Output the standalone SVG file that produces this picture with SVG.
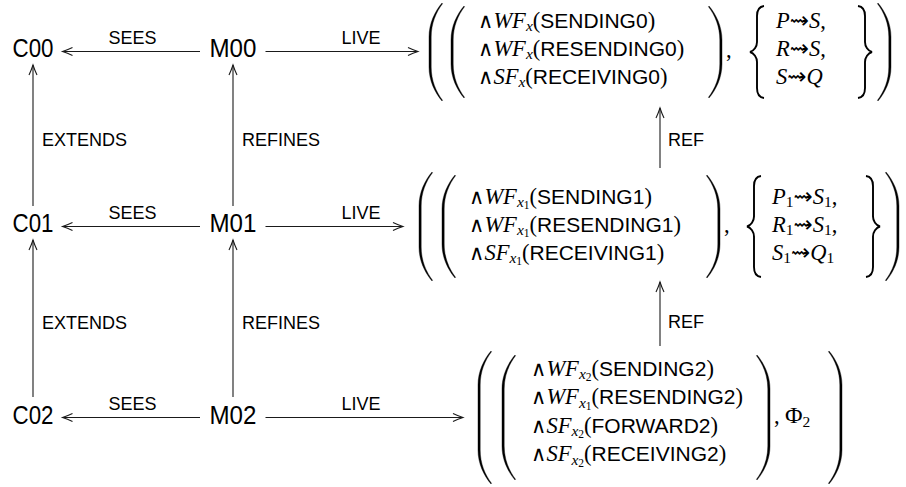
<svg xmlns="http://www.w3.org/2000/svg" width="906" height="487" viewBox="0 0 906 487">
<defs>
<style>
.node{font-family:"Liberation Sans",Arial,sans-serif;font-size:25px;fill:#000;text-anchor:middle}
.lbl{font-family:"Liberation Sans",Arial,sans-serif;font-size:18px;fill:#000}
.mid{text-anchor:middle}
.ln{stroke:#1a1a1a;stroke-width:1.1;fill:none}
.dl{fill:#000;stroke:#000;stroke-width:0.4}
.br{fill:none;stroke:#000;stroke-width:1.9}
.f{font-family:"Liberation Serif","DejaVu Serif",serif;font-size:22.5px;fill:#000}
.i{font-style:italic}
.sf{font-family:"Liberation Sans",Arial,sans-serif;font-size:21px}
.op{font-family:"DejaVu Serif",serif;font-size:21px}
.sb{font-size:15.5px;font-style:italic}
.ss{font-size:11.5px}
.s1{font-size:15.5px}
.lt{font-family:"DejaVu Sans",sans-serif;font-size:23px}
.big{font-size:24px}
</style>
<marker id="ah" markerUnits="userSpaceOnUse" viewBox="-12 -6 13 12" markerWidth="13" markerHeight="12" refX="0" refY="0" orient="auto" overflow="visible">
<path d="M -10,-4 Q -5,-1.6 0,0 Q -5,1.6 -10,4" fill="none" stroke="#1a1a1a" stroke-width="1.1"/>
</marker>
</defs>

<g id="connectors">
<g id="e-M00-C00"><path class="ln" d="M 200,51.5 H 62.5" marker-end="url(#ah)"/><text class="lbl mid" x="132.5" y="43.5">SEES</text></g>
<g id="e-M00-F0"><path class="ln" d="M 265.5,51.5 H 418" marker-end="url(#ah)"/><text class="lbl mid" x="361" y="43.5">LIVE</text></g>
<g id="e-M01-C01"><path class="ln" d="M 200,226.5 H 62.5" marker-end="url(#ah)"/><text class="lbl mid" x="132.5" y="218.5">SEES</text></g>
<g id="e-M01-F1"><path class="ln" d="M 265.5,226.5 H 403" marker-end="url(#ah)"/><text class="lbl mid" x="361" y="218.5">LIVE</text></g>
<g id="e-M02-C02"><path class="ln" d="M 200,417.5 H 62.5" marker-end="url(#ah)"/><text class="lbl mid" x="132.5" y="410">SEES</text></g>
<g id="e-M02-F2"><path class="ln" d="M 265.5,417.5 H 463" marker-end="url(#ah)"/><text class="lbl mid" x="361" y="410">LIVE</text></g>
<g id="e-C01-C00"><path class="ln" d="M 33,206 V 65" marker-end="url(#ah)"/><text class="lbl" x="42" y="145.5">EXTENDS</text></g>
<g id="e-C02-C01"><path class="ln" d="M 33,397 V 240" marker-end="url(#ah)"/><text class="lbl" x="42" y="329">EXTENDS</text></g>
<g id="e-M01-M00"><path class="ln" d="M 233,206 V 65" marker-end="url(#ah)"/><text class="lbl" x="242" y="145.5">REFINES</text></g>
<g id="e-M02-M01"><path class="ln" d="M 233,397 V 240" marker-end="url(#ah)"/><text class="lbl" x="242" y="329">REFINES</text></g>
<g id="e-F1-F0"><path class="ln" d="M 660,168 V 108" marker-end="url(#ah)"/><text class="lbl" x="668" y="145.5">REF</text></g>
<g id="e-F2-F1"><path class="ln" d="M 660,346 V 282" marker-end="url(#ah)"/><text class="lbl" x="668" y="327.5">REF</text></g>
</g>

<g id="C00"><text class="node" x="33" y="57.3" textLength="41" lengthAdjust="spacingAndGlyphs">C00</text></g>
<g id="M00"><text class="node" x="233" y="57.3" textLength="47" lengthAdjust="spacingAndGlyphs">M00</text></g>
<g id="C01"><text class="node" x="33" y="232.3" textLength="41" lengthAdjust="spacingAndGlyphs">C01</text></g>
<g id="M01"><text class="node" x="233" y="232.3" textLength="47" lengthAdjust="spacingAndGlyphs">M01</text></g>
<g id="C02"><text class="node" x="33" y="424.3" textLength="41" lengthAdjust="spacingAndGlyphs">C02</text></g>
<g id="M02"><text class="node" x="233" y="424.3" textLength="47" lengthAdjust="spacingAndGlyphs">M02</text></g>

<g id="F0">
<path class="dl" d="M 442,3 c -7.15,8.5 -13,20.4 -13,34 V 67 c 0,13.6 5.850,25.5 13,34 l 0.5,-0.8 c -6.5,-8.5 -11.3,-19.6 -11.3,-33.2 V 37 c 0,-13.6 4.8,-24.7 11.3,-33.2 Z"/>
<path class="dl" d="M 464,6 c -7.15,8.5 -13,20.4 -13,34 V 64 c 0,13.6 5.85,25.5 13,34 l 0.5,-0.8 c -6.5,-8.5 -11.3,-19.6 -11.3,-33.2 V 40 c 0,-13.6 4.8,-24.7 11.3,-33.2 Z"/>
<text class="f" x="478" y="27.5"><tspan class="op">∧</tspan><tspan class="i">WF</tspan><tspan class="sb" dy="3.5">x</tspan><tspan dy="-3.5">(</tspan><tspan class="sf">SENDING0</tspan>)</text>
<text class="f" x="478" y="55.5"><tspan class="op">∧</tspan><tspan class="i">WF</tspan><tspan class="sb" dy="3.5">x</tspan><tspan dy="-3.5">(</tspan><tspan class="sf">RESENDING0</tspan>)</text>
<text class="f" x="478" y="83.5"><tspan class="op">∧</tspan><tspan class="i">SF</tspan><tspan class="sb" dy="3.5">x</tspan><tspan dy="-3.5">(</tspan><tspan class="sf">RECEIVING0</tspan>)</text>
<path class="dl" d="M 709,6 c 7.15,8.5 13,20.4 13,34 V 64 c 0,13.6 -5.85,25.5 -13,34 l -0.5,-0.8 c 6.5,-8.5 11.3,-19.6 11.3,-33.2 V 40 c 0,-13.6 -4.8,-24.7 -11.3,-33.2 Z"/>
<text class="f" x="726" y="57">,</text>
<path class="br" d="M 764,6 c -4,0.5 -7,4 -7,10 V 42 c 0,4.5 -3,9 -7,10 c 4,1 7,5.5 7,10 V 88 c 0,6 3,9.5 7,10"/>
<text class="f" x="776" y="27.5"><tspan class="i">P</tspan><tspan class="lt">⇝</tspan><tspan class="i">S</tspan>,</text>
<text class="f" x="776" y="55.5"><tspan class="i">R</tspan><tspan class="lt">⇝</tspan><tspan class="i">S</tspan>,</text>
<text class="f" x="776" y="83.5"><tspan class="i">S</tspan><tspan class="lt">⇝</tspan><tspan class="i">Q</tspan></text>
<path class="br" d="M 858,6 c 4,0.5 7,4 7,10 V 42 c 0,4.5 3,9 7,10 c -4,1 -7,5.5 -7,10 V 88 c 0,6 -3,9.5 -7,10"/>
<path class="dl" d="M 878,3 c 7.15,8.5 13,20.4 13,34 V 67 c 0,13.6 -5.85,25.5 -13,34 l -0.5,-0.8 c 6.5,-8.5 11.3,-19.6 11.3,-33.2 V 37 c 0,-13.6 -4.8,-24.7 -11.3,-33.2 Z"/>
</g>

<g id="F1">
<path class="dl" d="M 432,172 c -7.15,8.5 -13,20.4 -13,34 V 247 c 0,13.6 5.85,25.5 13,34 l 0.5,-0.8 c -6.5,-8.5 -11.3,-19.6 -11.3,-33.2 V 206 c 0,-13.6 4.8,-24.7 11.3,-33.2 Z"/>
<path class="dl" d="M 455,175 c -7.15,8.5 -13,20.4 -13,34 V 244 c 0,13.6 5.85,25.5 13,34 l 0.5,-0.8 c -6.5,-8.5 -11.3,-19.6 -11.3,-33.2 V 209 c 0,-13.6 4.8,-24.7 11.3,-33.2 Z"/>
<text class="f" x="469" y="203.5"><tspan class="op">∧</tspan><tspan class="i">WF</tspan><tspan class="sb" dy="3.5">x</tspan><tspan class="ss" dy="2">1</tspan><tspan dy="-5.5">(</tspan><tspan class="sf">SENDING1</tspan>)</text>
<text class="f" x="469" y="231.5"><tspan class="op">∧</tspan><tspan class="i">WF</tspan><tspan class="sb" dy="3.5">x</tspan><tspan class="ss" dy="2">1</tspan><tspan dy="-5.5">(</tspan><tspan class="sf">RESENDING1</tspan>)</text>
<text class="f" x="469" y="259.5"><tspan class="op">∧</tspan><tspan class="i">SF</tspan><tspan class="sb" dy="3.5">x</tspan><tspan class="ss" dy="2">1</tspan><tspan dy="-5.5">(</tspan><tspan class="sf">RECEIVING1</tspan>)</text>
<path class="dl" d="M 707,175 c 7.15,8.5 13,20.4 13,34 V 244 c 0,13.6 -5.85,25.5 -13,34 l -0.5,-0.8 c 6.5,-8.5 11.3,-19.6 11.3,-33.2 V 209 c 0,-13.6 -4.8,-24.7 -11.3,-33.2 Z"/>
<text class="f" x="724" y="232">,</text>
<path class="br" d="M 761,176 c -4,0.5 -7,4 -7,10 V 216.5 c 0,4.5 -3,9 -7,10 c 4,1 7,5.5 7,10 V 267 c 0,6 3,9.5 7,10"/>
<text class="f" x="772" y="203.5"><tspan class="i">P</tspan><tspan class="s1" dy="3.5">1</tspan><tspan class="lt" dy="-3.5">⇝</tspan><tspan class="i">S</tspan><tspan class="s1" dy="3.5">1</tspan><tspan dy="-3.5">,</tspan></text>
<text class="f" x="772" y="231.5"><tspan class="i">R</tspan><tspan class="s1" dy="3.5">1</tspan><tspan class="lt" dy="-3.5">⇝</tspan><tspan class="i">S</tspan><tspan class="s1" dy="3.5">1</tspan><tspan dy="-3.5">,</tspan></text>
<text class="f" x="772" y="259.5"><tspan class="i">S</tspan><tspan class="s1" dy="3.5">1</tspan><tspan class="lt" dy="-3.5">⇝</tspan><tspan class="i">Q</tspan><tspan class="s1" dy="3.5">1</tspan></text>
<path class="br" d="M 866,176 c 4,0.5 7,4 7,10 V 216.5 c 0,4.5 3,9 7,10 c -4,1 -7,5.5 -7,10 V 267 c 0,6 -3,9.5 -7,10"/>
<path class="dl" d="M 886,172 c 7.15,8.5 13,20.4 13,34 V 247 c 0,13.6 -5.85,25.5 -13,34 l -0.5,-0.8 c 6.5,-8.5 11.3,-19.6 11.3,-33.2 V 206 c 0,-13.6 -4.8,-24.7 -11.3,-33.2 Z"/>
</g>

<g id="F2">
<path class="dl" d="M 491,351 c -7.15,8.5 -13,20.4 -13,34 V 450 c 0,13.6 5.85,25.5 13,34 l 0.5,-0.8 c -6.5,-8.5 -11.3,-19.6 -11.3,-33.2 V 385 c 0,-13.6 4.8,-24.7 11.3,-33.2 Z"/>
<path class="dl" d="M 515,355 c -7.15,8.5 -13,20.4 -13,34 V 446 c 0,13.6 5.85,25.5 13,34 l 0.5,-0.8 c -6.5,-8.5 -11.3,-19.6 -11.3,-33.2 V 389 c 0,-13.6 4.8,-24.7 11.3,-33.2 Z"/>
<text class="f" x="531" y="375.5"><tspan class="op">∧</tspan><tspan class="i">WF</tspan><tspan class="sb" dy="3.5">x</tspan><tspan class="ss" dy="2">2</tspan><tspan dy="-5.5">(</tspan><tspan class="sf">SENDING2</tspan>)</text>
<text class="f" x="531" y="404"><tspan class="op">∧</tspan><tspan class="i">WF</tspan><tspan class="sb" dy="3.5">x</tspan><tspan class="ss" dy="2">1</tspan><tspan dy="-5.5">(</tspan><tspan class="sf">RESENDING2</tspan>)</text>
<text class="f" x="531" y="432.5"><tspan class="op">∧</tspan><tspan class="i">SF</tspan><tspan class="sb" dy="3.5">x</tspan><tspan class="ss" dy="2">2</tspan><tspan dy="-5.5">(</tspan><tspan class="sf">FORWARD2</tspan>)</text>
<text class="f" x="531" y="461"><tspan class="op">∧</tspan><tspan class="i">SF</tspan><tspan class="sb" dy="3.5">x</tspan><tspan class="ss" dy="2">2</tspan><tspan dy="-5.5">(</tspan><tspan class="sf">RECEIVING2</tspan>)</text>
<path class="dl" d="M 757,355 c 7.15,8.5 13,20.4 13,34 V 446 c 0,13.6 -5.85,25.5 -13,34 l -0.5,-0.8 c 6.5,-8.5 11.3,-19.6 11.3,-33.2 V 389 c 0,-13.6 -4.8,-24.7 -11.3,-33.2 Z"/>
<text class="f" x="774" y="423">,</text>
<text class="f" x="785" y="423"><tspan class="big">Φ</tspan><tspan class="s1" dy="3.5">2</tspan></text>
<path class="dl" d="M 829,351 c 7.15,8.5 13,20.4 13,34 V 450 c 0,13.6 -5.85,25.5 -13,34 l -0.5,-0.8 c 6.5,-8.5 11.3,-19.6 11.3,-33.2 V 385 c 0,-13.6 -4.8,-24.7 -11.3,-33.2 Z"/>
</g>
</svg>
